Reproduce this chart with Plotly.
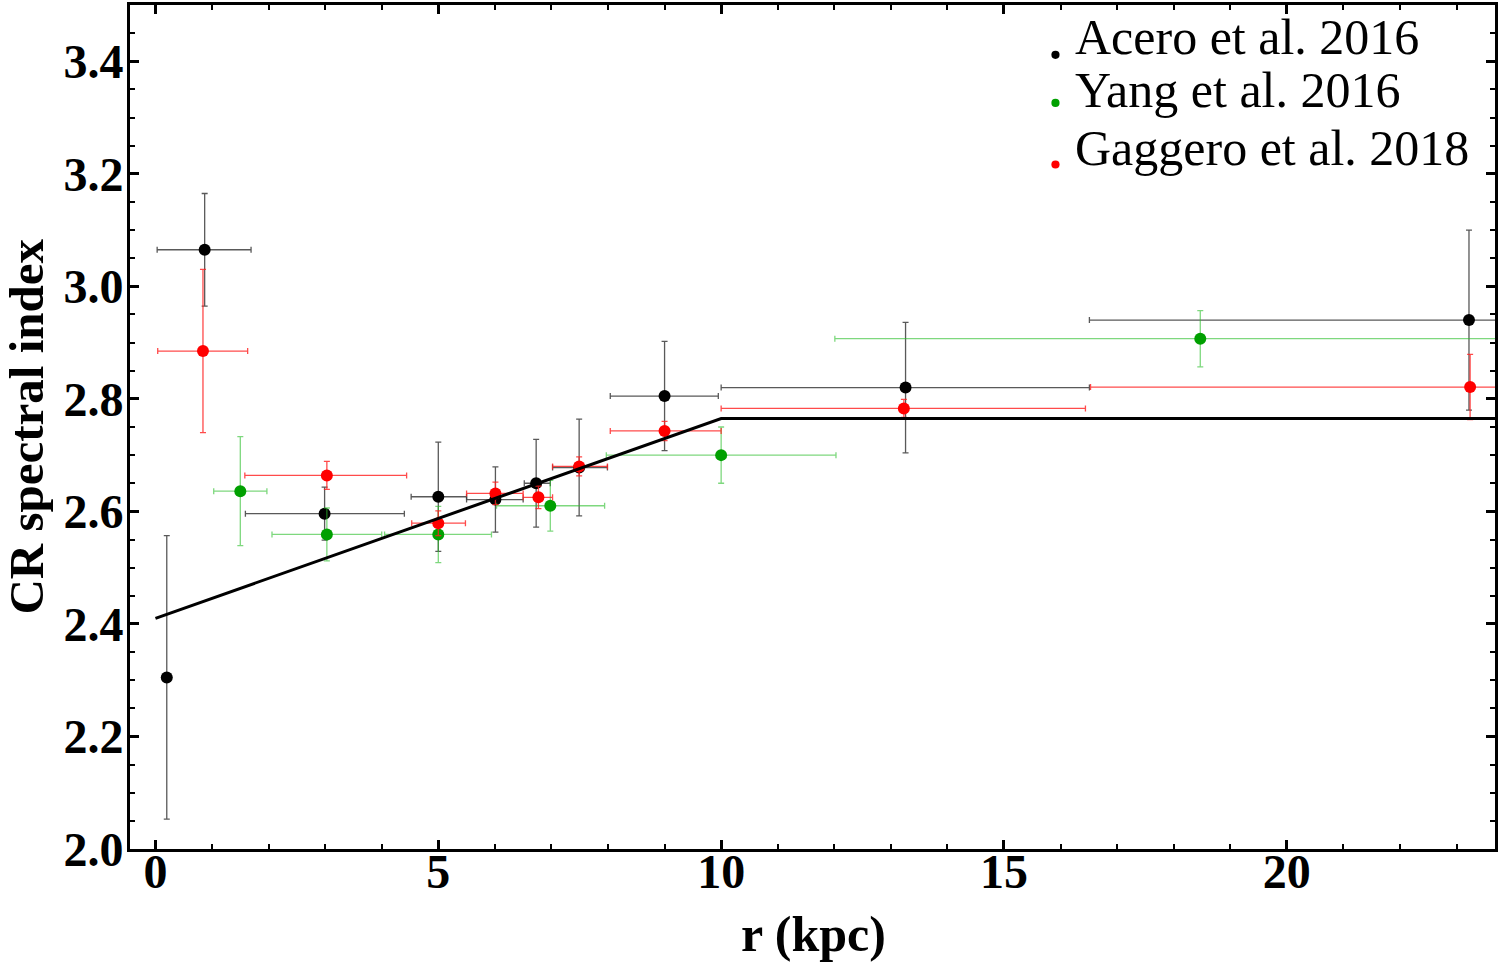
import plotly.graph_objects as go

# Acero et al. 2016
acero_r = [0.2, 0.87, 2.99, 5.0, 6.01, 6.73, 7.49, 9.0, 13.26, 23.22]
acero_g = [2.305, 3.065, 2.596, 2.626, 2.621, 2.65, 2.678, 2.805, 2.82, 2.94]
acero_gerr = [0.252, 0.1, 0.047, 0.097, 0.058, 0.078, 0.086, 0.097, 0.116, 0.16]
acero_r_lo = [0.2, 0.03, 1.59, 4.52, 5.5, 6.52, 7.02, 8.04, 10.0, 16.51]
acero_r_hi = [0.2, 1.69, 4.40, 5.5, 6.5, 6.98, 7.99, 9.95, 16.51, 30.0]

# Yang et al. 2016
yang_r = [1.5, 3.03, 5.0, 6.98, 10.0, 18.47]
yang_g = [2.636, 2.559, 2.559, 2.61, 2.70, 2.907]
yang_gerr = [0.097, 0.047, 0.05, 0.045, 0.05, 0.05]
yang_r_lo = [1.03, 2.06, 4.05, 6.03, 7.97, 12.01]
yang_r_hi = [1.97, 4.0, 5.94, 7.94, 12.03, 24.93]

# Gaggero et al. 2018
gag_r = [0.84, 3.03, 5.0, 6.01, 6.77, 7.49, 9.0, 13.23, 23.24]
gag_g = [2.885, 2.664, 2.579, 2.632, 2.625, 2.68, 2.743, 2.783, 2.821]
gag_gerr = [0.145, 0.025, 0.022, 0.02, 0.02, 0.017, 0.017, 0.016, 0.058]
gag_r_lo = [0.04, 1.58, 4.53, 5.5, 6.5, 7.02, 8.04, 10.0, 16.53]
gag_r_hi = [1.63, 4.44, 5.48, 6.5, 7.02, 7.99, 10.0, 16.44, 30.0]

# model line
model_r = [0.0, 10.0, 25.0]
model_g = [2.41, 2.765, 2.765]

legend_names = ["Acero et al. 2016", "Yang et al. 2016", "Gaggero et al. 2018"]
legend_colors = ["#000000", "#00a000", "#ff0000"]

FONT = "Liberation Serif"

fig = go.Figure()

def add_series(name, r, g, gerr, lo, hi, color, errcolor):
    fig.add_trace(go.Scatter(
        x=r, y=g, mode="markers", name=name, showlegend=False,
        marker=dict(color=color, size=12),
        error_y=dict(type="data", array=gerr, visible=True,
                     color=errcolor, thickness=1.3, width=3),
        error_x=dict(type="data",
                     array=[h - x for h, x in zip(hi, r)],
                     arrayminus=[x - l for l, x in zip(lo, r)],
                     visible=True, color=errcolor, thickness=1.3, width=3),
    ))

add_series(legend_names[0], acero_r, acero_g, acero_gerr, acero_r_lo, acero_r_hi,
           legend_colors[0], "rgba(60,60,60,0.85)")
add_series(legend_names[1], yang_r, yang_g, yang_gerr, yang_r_lo, yang_r_hi,
           legend_colors[1], "rgba(40,190,40,0.6)")
add_series(legend_names[2], gag_r, gag_g, gag_gerr, gag_r_lo, gag_r_hi,
           legend_colors[2], "rgba(255,30,30,0.8)")

fig.add_trace(go.Scatter(x=model_r, y=model_g, mode="lines", showlegend=False,
                         line=dict(color="black", width=3)))

# manual legend (text + small dots) in paper coordinates
dot_y = [0.941, 0.884, 0.811]
text_y = [0.9615, 0.899, 0.830]
for name, color, dy, ty in zip(legend_names, legend_colors, dot_y, text_y):
    r = 0.0030
    ry = r * 1367 / 847
    fig.add_shape(type="circle", xref="paper", yref="paper",
                  x0=0.678 - r, x1=0.678 + r, y0=dy - ry, y1=dy + ry,
                  fillcolor=color, line=dict(width=0))
    fig.add_annotation(text=name, xref="paper", yref="paper", x=0.6905, y=ty,
                       xanchor="left", yanchor="middle", showarrow=False,
                       font=dict(family=FONT, size=50, color="black"))

# axis titles
fig.add_annotation(text="CR spectral index", xref="paper", yref="paper",
                   x=-0.0765, y=0.5, xanchor="center", yanchor="middle",
                   textangle=-90, showarrow=False, borderpad=0,
                   font=dict(family=FONT, size=49, color="black", weight="bold"))
fig.add_annotation(text="r (kpc)", xref="paper", yref="paper",
                   x=0.501, y=-0.101, xanchor="center", yanchor="middle",
                   showarrow=False, borderpad=0,
                   font=dict(family=FONT, size=50, color="black", weight="bold"))

axis_common = dict(
    showline=True, linecolor="black", linewidth=3, mirror="allticks",
    ticks="inside", tickcolor="black", tickwidth=3, ticklen=9,
    showgrid=False, zeroline=False,
    tickfont=dict(family=FONT, size=48, color="black", weight="bold"),
)

fig.update_xaxes(
    range=[-0.45, 23.68], tick0=0, dtick=5,
    minor=dict(ticks="inside", dtick=1, ticklen=5, tickwidth=2, tickcolor="black"),
    ticklabelstandoff=-22,
    **axis_common,
)
fig.update_yaxes(
    range=[2.0, 3.5], tick0=2.0, dtick=0.2, tickformat=".1f",
    minor=dict(ticks="inside", dtick=0.05, ticklen=5, tickwidth=2, tickcolor="black"),
    ticklabelstandoff=-6,
    **axis_common,
)

fig.update_layout(
    width=1500, height=965,
    margin=dict(l=130, r=3, t=2, b=116),
    paper_bgcolor="white", plot_bgcolor="white",
    showlegend=False,
)

fig.write_html("out.html")
